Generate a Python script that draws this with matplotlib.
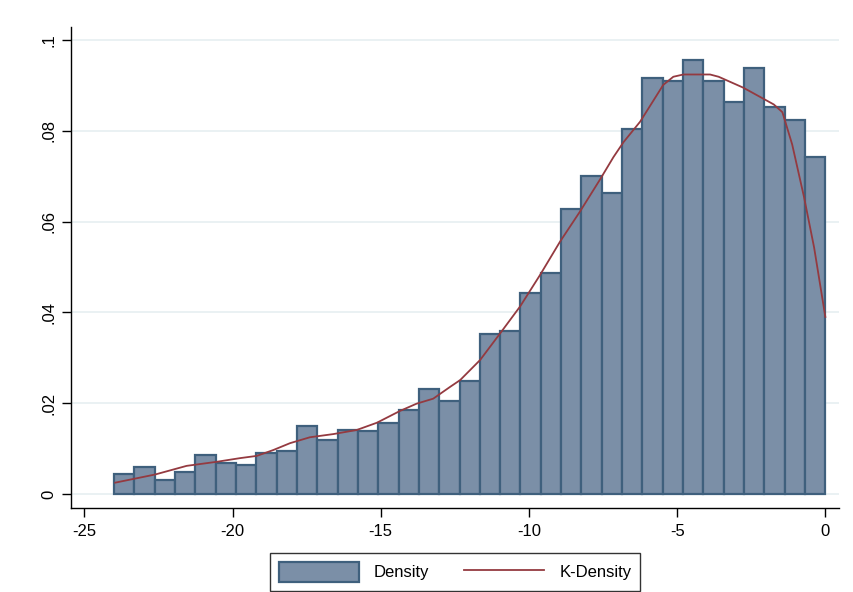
import numpy as np
import matplotlib.pyplot as plt
from matplotlib.patches import Patch
from matplotlib.lines import Line2D

plt.rcParams['font.family'] = ['Liberation Sans', 'DejaVu Sans']
plt.rcParams['axes.unicode_minus'] = False

# histogram: 35 bins from -24 to 0
bin_start = -24.0
bin_end = 0.0
density = [0.0045, 0.0060, 0.0031, 0.0049, 0.0087, 0.0068, 0.0064, 0.0090, 0.0094,
           0.0149, 0.0120, 0.0142, 0.0139, 0.0157, 0.0186, 0.0231, 0.0205, 0.0250,
           0.0352, 0.0360, 0.0442, 0.0486, 0.0627, 0.0700, 0.0664, 0.0805, 0.0916,
           0.0909, 0.0956, 0.0909, 0.0864, 0.0938, 0.0853, 0.0824, 0.0742]

# kernel density curve
kde_x = [-23.96, -22.61, -21.55, -20.53, -19.75, -19.18, -18.62, -18.06, -17.39,
         -16.60, -15.81, -15.13, -14.35, -13.79, -13.23, -12.66, -12.32, -11.65,
         -10.97, -10.30, -9.63, -8.95, -8.28, -7.60, -7.15, -6.81, -6.25, -5.47,
         -5.13, -4.79, -3.89, -3.60, -2.77, -1.74, -1.45, -1.12, -0.72, -0.38, 0.0]
kde_y = [0.0025, 0.0043, 0.0062, 0.0071, 0.0079, 0.0084, 0.0097, 0.0112, 0.0125,
         0.0132, 0.0141, 0.0157, 0.0183, 0.0199, 0.0210, 0.0236, 0.0251, 0.0295,
         0.0354, 0.0413, 0.0482, 0.0556, 0.0622, 0.0693, 0.0742, 0.0775, 0.0820, 0.0901,
         0.0919, 0.0924, 0.0924, 0.0919, 0.0895, 0.0858, 0.0841, 0.0770, 0.0654, 0.0543, 0.0390]

x_ticks = [-25, -20, -15, -10, -5, 0]
y_ticks = [0, 0.02, 0.04, 0.06, 0.08, 0.1]
y_labels = ['0', '.02', '.04', '.06', '.08', '.1']

fill_col = '#7b8fa7'
edge_col = '#3f607d'
line_col = '#943a40'

fig = plt.figure(figsize=(8.54, 5.92), dpi=100)
ax = fig.add_axes([71 / 854, 84 / 592, 768 / 854, 481 / 592])

n = len(density)
w = (bin_end - bin_start) / n
lefts = bin_start + w * np.arange(n)
ax.bar(lefts, density, width=w, align='edge', color=fill_col,
       edgecolor=edge_col, linewidth=1.6, zorder=2)
ax.plot(kde_x, kde_y, color=line_col, linewidth=1.3, zorder=3)

ax.set_xlim(-25.45, 0.46)
ax.set_ylim(-0.00308, 0.10286)
ax.set_xticks(x_ticks)
ax.set_yticks(y_ticks)
ax.set_yticklabels(y_labels, rotation=90, va='center')

ax.grid(axis='y', color='#eaf1f3', linewidth=1.4, zorder=0)
ax.set_axisbelow(True)
for s in ['top', 'right']:
    ax.spines[s].set_visible(False)
for s in ['left', 'bottom']:
    ax.spines[s].set_linewidth(1.0)
    ax.spines[s].set_color('black')
ax.tick_params(axis='both', direction='out', length=6.5, width=1.0,
               labelsize=12, colors='black')
ax.tick_params(axis='y', pad=4)
ax.tick_params(axis='x', pad=5)

handles = [Patch(facecolor=fill_col, edgecolor=edge_col, linewidth=1.6),
           Line2D([0], [0], color=line_col, linewidth=1.3)]
leg = fig.legend(handles, ['Density', 'K-Density'], loc='lower center',
                 bbox_to_anchor=(455 / 854, 0.0), ncol=2, fontsize=12,
                 frameon=True, fancybox=False, edgecolor='black',
                 handlelength=4.8, handleheight=1.5, handletextpad=0.9,
                 columnspacing=2.1, borderpad=0.55, borderaxespad=0.05)
leg.get_frame().set_linewidth(1.0)

fig.savefig('out.png', dpi=100, facecolor='white')
